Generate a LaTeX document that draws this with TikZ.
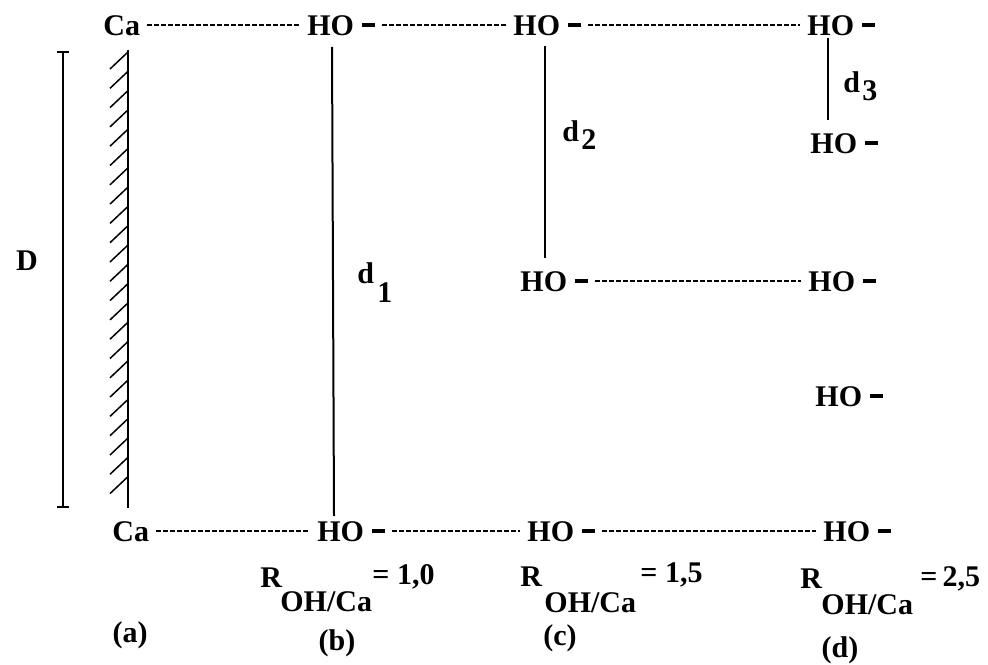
\documentclass[tikz,border=0pt]{standalone}
\usepackage{fontspec}
\setmainfont{Liberation Serif}
\newcommand\hydash{HO\hspace{0.28em}\rule[0.27em]{0.42em}{0.14em}}
\begin{document}
\begin{tikzpicture}[x=0.5pt,y=-0.5pt,
  lab/.style={inner sep=0pt, font=\bfseries\fontsize{15}{18}\selectfont, anchor=base west},
  ctr/.style={inner sep=0pt, font=\bfseries\fontsize{15}{18}\selectfont, anchor=center},
  dotl/.style={line width=0.8pt, dash pattern=on 2.3pt off 1.2pt, shorten <=3.5pt, shorten >=3.5pt},
  vline/.style={line width=1pt},
  wall/.style={line width=1.2pt},
  hatch/.style={line width=0.75pt}]
\useasboundingbox (0,0) rectangle (988,664);

% top row
\node[lab] (ca1) at (103,35) {Ca};
\node[lab] (hob1) at (307,35) {\hydash};
\node[lab] (hoc1) at (513,35) {\hydash};
\node[lab] (hod1) at (807,35) {\hydash};
% d column extras
\node[lab] (hod2) at (810,153) {\hydash};
\node[lab] (hoc2) at (520,291) {\hydash};
\node[lab] (hod3) at (808,291) {\hydash};
\node[lab] (hod4) at (815,406) {\hydash};
% bottom row
\node[lab] (ca2) at (112,541) {Ca};
\node[lab] (hob2) at (317,541) {\hydash};
\node[lab] (hoc3) at (527,541) {\hydash};
\node[lab] (hod5) at (823,541) {\hydash};

% dotted bonds
\draw[dotl] (ca1.east) -- (hob1.west);
\draw[dotl] (hob1.east) -- (hoc1.west);
\draw[dotl] (hoc1.east) -- (hod1.west);
\draw[dotl] (hoc2.east) -- (hod3.west);
\draw[dotl] (ca2.east) -- (hob2.west);
\draw[dotl] (hob2.east) -- (hoc3.west);
\draw[dotl] (hoc3.east) -- (hod5.west);

% wall with hatching
\coordinate (wt) at (128,50);
\coordinate (wb) at (128,508);
\draw[wall] (wt) -- (wb);
\foreach \i in {0,...,22}
  \draw[hatch] (128,52+\i*19.3) -- ++(-18,17);

% D bar
\coordinate (Dt) at (63,52);
\coordinate (Db) at (63,507);
\draw[vline] (Dt) -- (Db);
\draw[vline] ([xshift=-3pt]Dt) -- ([xshift=3pt]Dt);
\draw[vline] ([xshift=-3pt]Db) -- ([xshift=3pt]Db);
\node[ctr] (D) at (27,261) {D};

% distance lines
\coordinate (d1t) at (332,47);
\coordinate (d1b) at (334,516);
\draw[vline] (d1t) -- (d1b);
\coordinate (d2t) at (545,46);
\coordinate (d2b) at (545,258);
\draw[vline] (d2t) -- (d2b);
\coordinate (d3t) at (828,38);
\coordinate (d3b) at (828,120);
\draw[vline] (d3t) -- (d3b);

% distance labels
\node[lab] (d1) at (357,283) {d};
\node[lab] (d1s) at (377,302) {1};
\node[lab] (d2) at (562,141) {d};
\node[lab] (d2s) at (581,149) {2};
\node[lab] (d3) at (843,92) {d};
\node[lab] (d3s) at (862,100) {3};

% ratio labels
\node[lab] (Rb) at (260,587) {R};
\node[lab] (Rbs) at (280,611) {OH/Ca};
\node[lab] (Rbv) at (372,584) {= 1,0};
\node[lab] (Rc) at (520,586) {R};
\node[lab] (Rcs) at (544,612) {OH/Ca};
\node[lab] (Rcv) at (640,582) {= 1,5};
\node[lab] (Rd) at (800,588) {R};
\node[lab] (Rds) at (821,614) {OH/Ca};
\node[lab] (Rdv) at (920,586) {=\,2,5};

% panel letters
\node[ctr] (pa) at (130,635) {(a)};
\node[ctr] (pb) at (337,643) {(b)};
\node[ctr] (pc) at (560,638) {(c)};
\node[ctr] (pd) at (840,650) {(d)};
\end{tikzpicture}
\end{document}
